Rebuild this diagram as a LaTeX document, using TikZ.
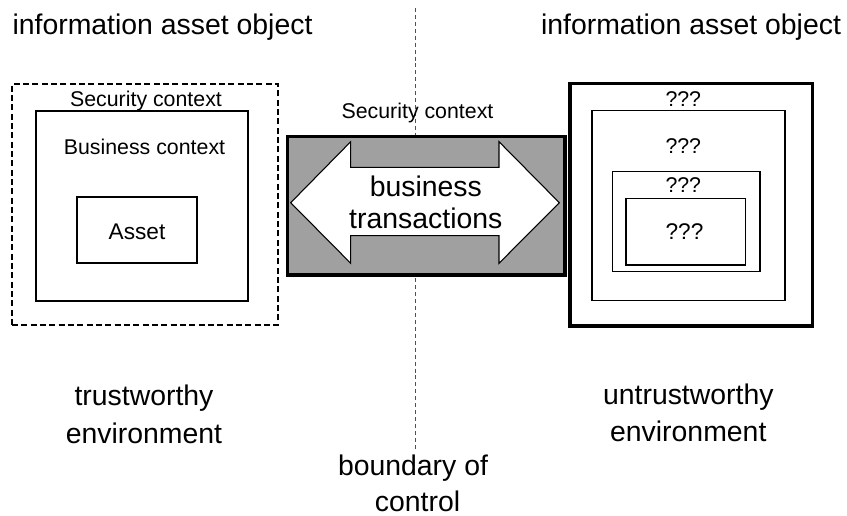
\documentclass[tikz,border=0pt]{standalone}
\usepackage{fontspec}
\usetikzlibrary{fit}
\setmainfont{Liberation Sans}
\definecolor{boxgray}{RGB}{160,160,160}
\definecolor{linegray}{RGB}{80,80,80}
\begin{document}
\begin{tikzpicture}[x=0.75pt,y=-0.75pt,
  big/.style={font=\fontsize{21.3}{25}\selectfont, inner sep=0pt, anchor=base},
  small/.style={font=\fontsize{16}{19}\selectfont, inner sep=0pt, anchor=base},
  inner/.style={font=\fontsize{17}{20}\selectfont, inner sep=0pt, anchor=base},
  thinbox/.style={draw=black, line width=0.8pt, inner sep=0pt},
  thickbox/.style={draw=black, line width=2.3pt, inner sep=0pt},
  dashbox/.style={draw=black, line width=0.8pt, dash pattern=on 4.5pt off 2.5pt, inner sep=0pt},
  boundary/.style={draw=linegray, line width=0.7pt, dash pattern=on 3pt off 2.2pt}]
\useasboundingbox (0,0) rectangle (847,516);
\fill[white] (0,0) rectangle (847,516);

% boundary line
\coordinate (btop) at (415,8);
\coordinate (bbot) at (415,450);
\draw[boundary] (btop) -- (bbot);

% top titles
\node[big] (titleL) at (162.5,35) {information asset object};
\node[big] (titleR) at (691,35) {information asset object};

% left nested boxes
\node[dashbox, fit={(12,84) (278,325)}] (secL) {};
\node[thinbox, fit={(36,111) (248,301)}] (busL) {};
\node[thinbox, fit={(77,197) (197,263)}] (assetL) {};
\node[small] (secLt) at (146,107) {Security context};
\node[small] (busLt) at (144.5,155) {Business context};
\node[inner] (assetLt) at (137,240) {Asset};

% middle
\node[small] (secMt) at (417.5,119) {Security context};
\node[thickbox, fill=boxgray, fit={(287.3,136.7) (565,275)}] (mid) {};
\draw[draw=black, line width=0.8pt, fill=white]
  (290.7,202.7) -- (350.7,141.7) -- (350.7,167.3) -- (499,167.3) -- (499,141.7)
  -- (559.3,202.7) -- (499,263.3) -- (499,235.7) -- (350.7,235.7) -- (350.7,263.3) -- cycle;
\node[big] (bt1) at (425.8,196.7) {business};
\node[big] (bt2) at (425.8,228.3) {transactions};

% right nested boxes
\node[thickbox, fit={(570,83.3) (812.7,326)}] (o1) {};
\node[thinbox, fit={(592,110.7) (785,300.7)}] (o2) {};
\node[thinbox, fit={(612.3,171.7) (760,271.3)}] (o3) {};
\node[thinbox, fit={(626,198.7) (745.3,265)}] (o4) {};
\node[small] (q1) at (683.3,106.7) {???};
\node[small] (q2) at (683.3,154) {???};
\node[small] (q3) at (683.3,192.7) {???};
\node[inner] (q4) at (684.5,240) {???};

% bottom labels
\node[big] (tw1) at (144,406) {trustworthy};
\node[big] (tw2) at (144,443.3) {environment};
\node[big] (uw1) at (688.3,405) {untrustworthy};
\node[big] (uw2) at (688.3,441.7) {environment};
\node[big] (bc1) at (413,475.5) {boundary of};
\node[big] (bc2) at (417.5,511.7) {control};
\end{tikzpicture}
\end{document}
